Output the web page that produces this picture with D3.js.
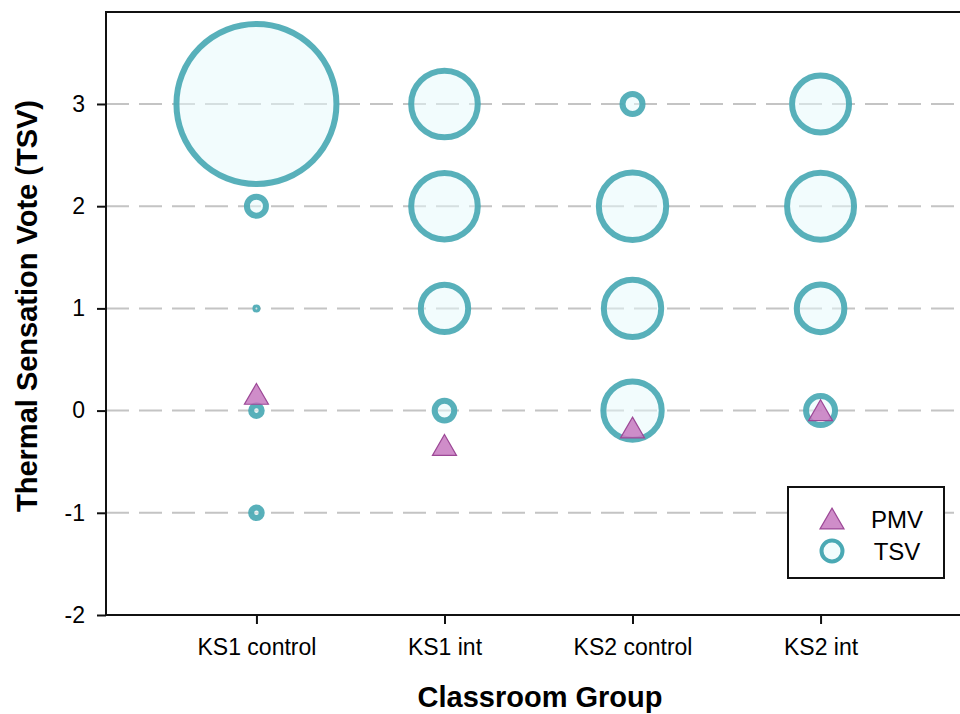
<!DOCTYPE html>
<html>
<head>
<meta charset="utf-8">
<script src="https://cdn.jsdelivr.net/npm/d3@7"></script>
<style>
  html, body { margin: 0; padding: 0; background: #fff; }
  svg { display: block; }
  text { font-family: "Liberation Sans", Arial, sans-serif; fill: #000; }
</style>
</head>
<body>
<svg id="chart" width="960" height="714"></svg>
<script>
// Classroom groups along the x axis
const groups = ["KS1 control", "KS1 int", "KS2 control", "KS2 int"];
// Thermal sensation vote levels
const tsvLevels = [-1, 0, 1, 2, 3];
// Share of votes (%) at each level, one array per group (0 = no votes)
const ks1Control = [5.3, 5.3, 2.5, 9.5, 80];
const ks1Int     = [0, 9.8, 23.7, 33.3, 33.3];
const ks2Control = [0, 29.2, 28.7, 33.7, 10];
const ks2Int     = [0, 14.5, 23.8, 33.5, 28.5];
const tsvShares = [ks1Control, ks1Int, ks2Control, ks2Int];
// Predicted mean vote for each group
const pmv = [0.13, -0.37, -0.2, -0.03];
// Y axis ticks
const yTicks = [-2, -1, 0, 1, 2, 3];

const svg = d3.select("#chart");
const plotLeft = 106, plotRight = 971, plotTop = 12, plotBottom = 615;

const x = d3.scaleLinear().domain([0.2, 4.8]).range([plotLeft, plotRight]);
const y = d3.scaleLinear().domain([-2, 3.9]).range([plotBottom, plotTop]);
const r = d3.scaleLinear().domain([0, 100]).range([0, 100]);

const teal = "#4aa9b4";
const purpleFill = "#c779bf";
const purpleStroke = "#9c4896";

// dashed reference lines
svg.append("g").selectAll("line")
  .data(yTicks.filter(v => v > -2))
  .join("line")
  .attr("x1", plotLeft).attr("x2", plotRight)
  .attr("y1", d => y(d)).attr("y2", d => y(d))
  .attr("stroke", "#c4c4c4")
  .attr("stroke-width", 2)
  .attr("stroke-dasharray", "23,10");

// TSV bubbles
const bubbles = [];
tsvShares.forEach((arr, gi) => {
  arr.forEach((v, li) => {
    if (v > 0) bubbles.push({ g: gi + 1, vote: tsvLevels[li], share: v });
  });
});
bubbles.sort((a, b) => b.share - a.share);

svg.append("g").selectAll("circle")
  .data(bubbles)
  .join("circle")
  .attr("cx", d => x(d.g))
  .attr("cy", d => y(d.vote))
  .attr("r", d => r(d.share))
  .attr("fill", "#e6fafc")
  .attr("fill-opacity", 0.5)
  .attr("stroke", teal)
  .attr("stroke-opacity", 0.92)
  .attr("stroke-width", d => Math.min(6, r(d.share) * 1.2));

// PMV triangles
const tri = d3.symbol().type(d3.symbolTriangle).size(250);
svg.append("g").selectAll("path")
  .data(pmv)
  .join("path")
  .attr("d", tri)
  .attr("transform", (d, i) => `translate(${x(i + 1)},${y(d)})`)
  .attr("fill", purpleFill)
  .attr("fill-opacity", 0.85)
  .attr("stroke", purpleStroke)
  .attr("stroke-width", 1.2);

// frame
svg.append("rect")
  .attr("x", plotLeft).attr("y", plotTop)
  .attr("width", plotRight - plotLeft).attr("height", plotBottom - plotTop)
  .attr("fill", "none").attr("stroke", "#111").attr("stroke-width", 2);

// y axis
const yAxis = svg.append("g")
  .attr("transform", `translate(${plotLeft},0)`)
  .call(d3.axisLeft(y).tickValues(yTicks).tickSize(9).tickPadding(12).tickFormat(d => String(d)));
yAxis.select(".domain").remove();
yAxis.selectAll(".tick line").attr("stroke", "#111").attr("stroke-width", 2);
yAxis.selectAll(".tick text")
  .style("font-family", "'Liberation Sans', Arial, sans-serif")
  .style("font-size", "23px").attr("fill", "#000");

// x axis
const xAxis = svg.append("g")
  .attr("transform", `translate(0,${plotBottom})`)
  .call(d3.axisBottom(x).tickValues([1, 2, 3, 4]).tickSize(9).tickPadding(15)
    .tickFormat(d => groups[d - 1]));
xAxis.select(".domain").remove();
xAxis.selectAll(".tick line").attr("stroke", "#111").attr("stroke-width", 2);
xAxis.selectAll(".tick text")
  .style("font-family", "'Liberation Sans', Arial, sans-serif")
  .style("font-size", "23px").attr("fill", "#000");

// axis titles
svg.append("text")
  .attr("x", 540).attr("y", 707)
  .attr("text-anchor", "middle")
  .style("font-size", "29px").style("font-weight", "bold")
  .text("Classroom Group");

svg.append("text")
  .attr("transform", `translate(37,${306}) rotate(-90)`)
  .attr("text-anchor", "middle")
  .style("font-size", "29px").style("font-weight", "bold")
  .text("Thermal Sensation Vote (TSV)");

// legend
const lg = svg.append("g");
lg.append("rect")
  .attr("x", 788).attr("y", 487).attr("width", 156).attr("height", 91)
  .attr("fill", "#fff").attr("stroke", "#111").attr("stroke-width", 2);
lg.append("path")
  .attr("d", tri)
  .attr("transform", "translate(832,522)")
  .attr("fill", purpleFill).attr("fill-opacity", 0.85)
  .attr("stroke", purpleStroke).attr("stroke-width", 1.2);
lg.append("circle")
  .attr("cx", 832).attr("cy", 551).attr("r", 10.5)
  .attr("fill", "#e6fafc").attr("fill-opacity", 0.5)
  .attr("stroke", teal).attr("stroke-width", 4);
lg.selectAll("text.lab")
  .data(["PMV", "TSV"])
  .join("text")
  .attr("class", "lab")
  .attr("x", 897).attr("y", (d, i) => 528 + i * 32)
  .attr("text-anchor", "middle")
  .style("font-size", "24px")
  .text(d => d);
</script>
</body>
</html>
